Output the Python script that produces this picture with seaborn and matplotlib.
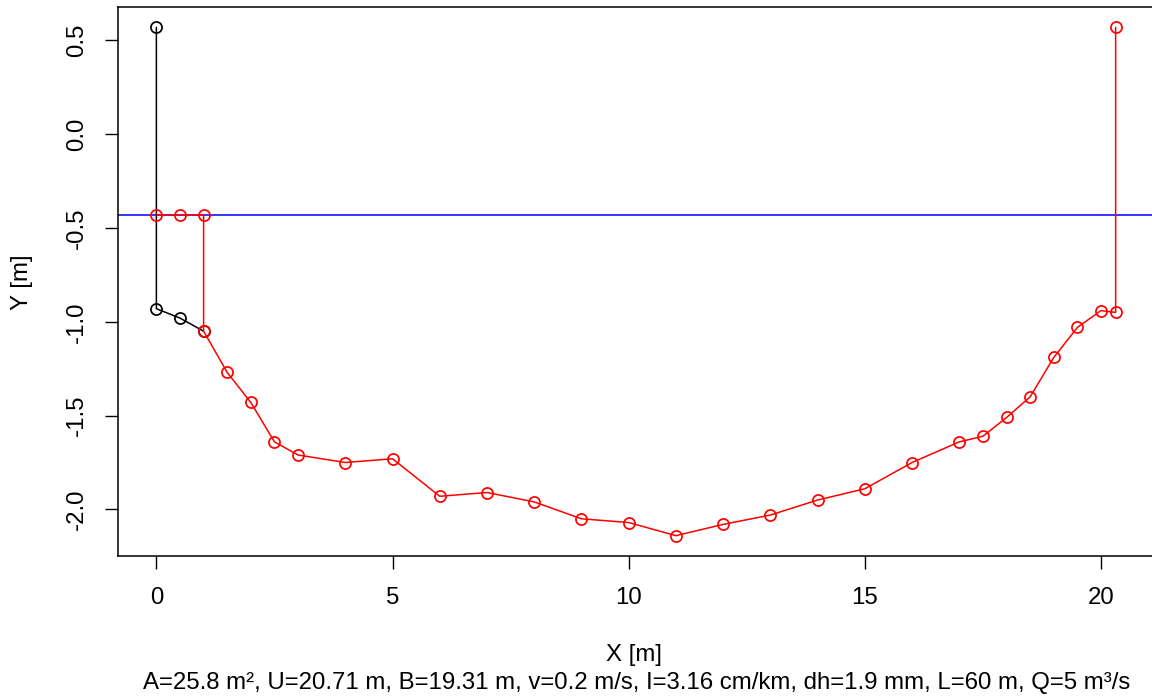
import matplotlib
matplotlib.use("Agg")
import matplotlib.pyplot as plt
import seaborn as sns
import numpy as np

# Data
bank_x = [0, 0, 0.5, 1]
bank_y = [0.57, -0.93, -0.98, -1.05]

wet_x = [0, 0.5, 1, 1, 1.5, 2, 2.5, 3, 4, 5, 6, 7, 8, 9, 10, 11, 12, 13, 14, 15,
         16, 17, 17.5, 18, 18.5, 19, 19.5, 20, 20.31, 20.31]
wet_y = [-0.43, -0.43, -0.43, -1.05, -1.27, -1.43, -1.64, -1.71, -1.75, -1.73,
         -1.93, -1.91, -1.96, -2.05, -2.07, -2.14, -2.08, -2.03, -1.95, -1.89,
         -1.75, -1.64, -1.61, -1.51, -1.40, -1.19, -1.03, -0.94, -0.95, 0.57]

water_level = -0.43
x_ticks = [0, 5, 10, 15, 20]
y_ticks = [0.5, 0.0, -0.5, -1.0, -1.5, -2.0]
caption = "A=25.8 m², U=20.71 m, B=19.31 m, v=0.2 m/s, I=3.16 cm/km, dh=1.9 mm, L=60 m, Q=5 m³/s"

sns.set_style("white")
plt.rcParams['font.family'] = ['Liberation Sans', 'DejaVu Sans']
plt.rcParams['text.color'] = 'black'
plt.rcParams['xtick.color'] = 'black'
plt.rcParams['ytick.color'] = 'black'

FS = 17.3

fig = plt.figure(figsize=(11.52, 7.0), dpi=100)
ax = fig.add_axes([118/1152, 144/700, 1036/1152, 549/700])

ax.axhline(water_level, color='blue', lw=1.1, zorder=1)

sns.lineplot(x=bank_x, y=bank_y, sort=False, estimator=None, color='black', lw=1.1,
             marker='o', markersize=8, markerfacecolor='none', markeredgecolor='black',
             markeredgewidth=1.25, ax=ax, zorder=2)
sns.lineplot(x=wet_x, y=wet_y, sort=False, estimator=None, color='red', lw=1.1,
             marker='o', markersize=8, markerfacecolor='none', markeredgecolor='red',
             markeredgewidth=1.25, ax=ax, zorder=3)

xmin, xmax = 0, max(wet_x)
ymin, ymax = min(wet_y), max(max(wet_y), max(bank_y))
dx = 0.04 * (xmax - xmin)
dy = 0.04 * (ymax - ymin)
ax.set_xlim(xmin - dx, xmax + dx)
ax.set_ylim(ymin - dy, ymax + dy)

ax.set_xticks(x_ticks)
ax.set_xticklabels([str(t) for t in x_ticks])
ax.set_yticks(y_ticks)
ax.set_yticklabels([f"{t:.1f}" for t in y_ticks], rotation=90, va='center')

ax.tick_params(axis='both', direction='out', length=9.5, width=1, color='black',
               labelsize=FS, labelcolor='black', left=True, bottom=True)
ax.tick_params(axis='x', pad=13)
ax.tick_params(axis='y', pad=12)
for s in ax.spines.values():
    s.set_color('black')
    s.set_linewidth(1.1)

ax.set_xlabel("")
ax.set_ylabel("")
fig.text(634/1152, 1 - 655/700, "X [m]", ha='center', va='center', fontsize=FS)
fig.text(22/1152, 1 - 282/700, "Y [m]", ha='center', va='center', fontsize=FS, rotation=90)
fig.text(637/1152, 1 - 683/700, caption, ha='center', va='center', fontsize=FS)

fig.savefig("out.png", dpi=100)
